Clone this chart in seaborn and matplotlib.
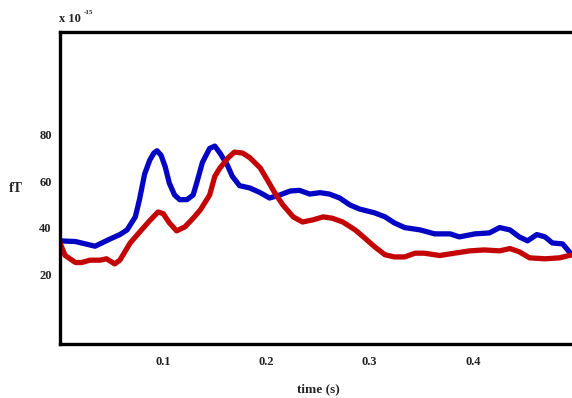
import numpy as np
import pandas as pd
import seaborn as sns
import matplotlib
matplotlib.use("Agg")
import matplotlib.pyplot as plt

# ---------- data ----------
blue_t = [0.000, 0.015, 0.034, 0.048, 0.058, 0.065, 0.073, 0.077, 0.082, 0.087,
          0.091, 0.094, 0.098, 0.102, 0.106, 0.111, 0.116, 0.123, 0.129, 0.133,
          0.138, 0.145, 0.150, 0.155, 0.162, 0.167, 0.174, 0.184, 0.194, 0.203,
          0.213, 0.223, 0.232, 0.242, 0.252, 0.261, 0.271, 0.281, 0.290, 0.305,
          0.315, 0.324, 0.334, 0.349, 0.363, 0.378, 0.387, 0.402, 0.416, 0.426,
          0.436, 0.445, 0.453, 0.462, 0.470, 0.477, 0.487, 0.496]
blue_v = [34.3, 34.0, 32.0, 35.0, 37.0, 39.0, 44.6, 52.0, 63.0, 69.0,
          72.0, 73.0, 71.0, 66.0, 59.0, 54.0, 52.0, 52.0, 54.0, 60.0,
          68.0, 74.0, 75.0, 72.0, 67.0, 62.0, 58.0, 57.0, 55.0, 52.7,
          54.0, 55.7, 56.0, 54.4, 55.0, 54.4, 52.7, 49.7, 48.0, 46.3,
          44.6, 42.0, 40.0, 39.0, 37.3, 37.3, 36.0, 37.3, 37.7, 40.0,
          39.0, 36.0, 34.3, 37.0, 36.0, 33.4, 33.0, 28.3]

red_t = [0.000, 0.005, 0.015, 0.021, 0.029, 0.039, 0.045, 0.053, 0.058, 0.068,
         0.077, 0.087, 0.095, 0.100, 0.106, 0.113, 0.121, 0.129, 0.136, 0.145,
         0.150, 0.155, 0.163, 0.169, 0.177, 0.184, 0.194, 0.201, 0.208, 0.216,
         0.226, 0.235, 0.245, 0.255, 0.264, 0.274, 0.286, 0.295, 0.305, 0.315,
         0.324, 0.334, 0.344, 0.353, 0.368, 0.382, 0.397, 0.411, 0.426, 0.436,
         0.445, 0.455, 0.470, 0.484, 0.496]
red_v = [33.4, 28.0, 25.0, 25.0, 26.0, 26.0, 26.6, 24.4, 26.0, 33.4,
         38.0, 43.0, 46.7, 46.0, 42.0, 38.6, 40.3, 44.0, 47.6, 54.0,
         62.0, 65.6, 70.0, 72.4, 72.0, 70.0, 65.6, 60.4, 55.0, 49.7,
         44.6, 42.4, 43.3, 44.6, 44.0, 42.4, 39.0, 35.6, 31.7, 28.3,
         27.4, 27.4, 29.0, 29.0, 28.0, 29.0, 30.0, 30.4, 30.0, 31.0,
         29.6, 27.0, 26.6, 27.0, 28.3]

x_ticks = [0.1, 0.2, 0.3, 0.4]
y_ticks = [20, 40, 60, 80]

df = pd.concat([
    pd.DataFrame({"time": blue_t, "fT": blue_v, "cond": "blue"}),
    pd.DataFrame({"time": red_t, "fT": red_v, "cond": "red"}),
])

# ---------- plot ----------
sns.set_style("white")
plt.rcParams["font.family"] = ["Liberation Serif", "DejaVu Serif"]
plt.rcParams["font.weight"] = "bold"

fig = plt.figure(figsize=(5.72, 3.98), dpi=100)
ax = fig.add_axes([60 / 572, 54 / 398, 516 / 572, 312 / 398])

sns.lineplot(
    data=df, x="time", y="fT", hue="cond",
    palette={"blue": "#0505c4", "red": "#c40505"},
    linewidth=3.8, legend=False, ax=ax,
    solid_joinstyle="round", solid_capstyle="round",
)

ax.set_xlim(0, 0.5)
ax.set_ylim(-10, 124)
ax.set_xticks(x_ticks)
ax.set_yticks(y_ticks)
ax.set_xticklabels([str(t) for t in x_ticks], fontsize=9, fontweight="bold")
ax.set_yticklabels([str(t) for t in y_ticks], fontsize=9, fontweight="bold")
ax.tick_params(axis="both", direction="out", length=4.5, width=2.2,
               color="black", pad=1.5, labelcolor="#222222")
ax.tick_params(axis="x", pad=4)

for side in ["left", "bottom", "top"]:
    ax.spines[side].set_linewidth(2.4)
    ax.spines[side].set_color("black")
ax.spines["right"].set_visible(False)

ax.set_xlabel("")
ax.set_ylabel("")
fig.text(318 / 572, 1 - 389 / 398, "time (s)", ha="center", va="center",
         fontsize=9.5, fontweight="bold", color="#222222")
fig.text(16 / 572, 1 - 188 / 398, "fT", ha="center", va="center",
         fontsize=10, fontweight="bold", color="#222222")
fig.text(59 / 572, 1 - 22 / 398, "x 10", ha="left", va="baseline",
         fontsize=9, fontweight="bold", color="#222222")
fig.text(84 / 572, 1 - 14 / 398, "-15", ha="left", va="baseline",
         fontsize=5, fontweight="bold", color="#222222")

fig.savefig("out.png", dpi=100)
